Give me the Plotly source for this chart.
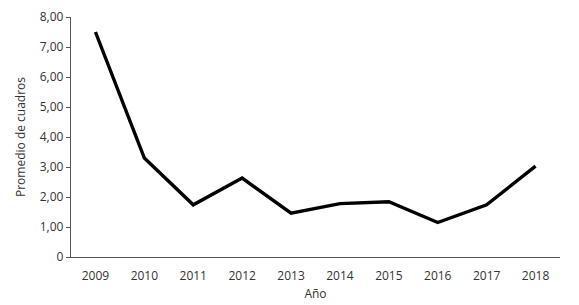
import plotly.graph_objects as go

# Datos
anios = ["2009", "2010", "2011", "2012", "2013", "2014", "2015", "2016", "2017", "2018"]
promedio = [7.50, 3.30, 1.74, 2.63, 1.46, 1.78, 1.84, 1.15, 1.74, 3.03]
y_ticks = [0, 1, 2, 3, 4, 5, 6, 7, 8]
y_labels = ["0", "1,00", "2,00", "3,00", "4,00", "5,00", "6,00", "7,00", "8,00"]

fig = go.Figure()

fig.add_trace(go.Scatter(
    x=anios,
    y=promedio,
    mode="lines",
    line=dict(color="black", width=3.4),
    showlegend=False,
))

# the page body has an 8px margin, so the figure is a bit smaller
fig.update_layout(
    width=571,
    height=297,
    margin=dict(l=63, r=19, t=9, b=48),
    paper_bgcolor="white",
    plot_bgcolor="white",
    font=dict(family="Open Sans, sans-serif", size=12, color="#333"),
    xaxis=dict(
        type="category",
        range=[-0.5, 9.5],
        automargin=False,
        showline=True,
        linecolor="#555",
        linewidth=1.3,
        showgrid=False,
        ticks="outside",
        ticklen=7,
        tickcolor="rgba(0,0,0,0)",
        title=dict(text="Año", standoff=7, font=dict(size=12)),
    ),
    yaxis=dict(
        range=[0, 8],
        automargin=False,
        tickvals=y_ticks,
        ticktext=y_labels,
        showline=True,
        linecolor="#555",
        linewidth=1.3,
        showgrid=False,
        zeroline=False,
        ticks="outside",
        ticklen=4,
        tickcolor="#555",
        title=dict(text="Promedio de cuadros", standoff=11, font=dict(size=12)),
    ),
)

fig.write_html("out.html")
